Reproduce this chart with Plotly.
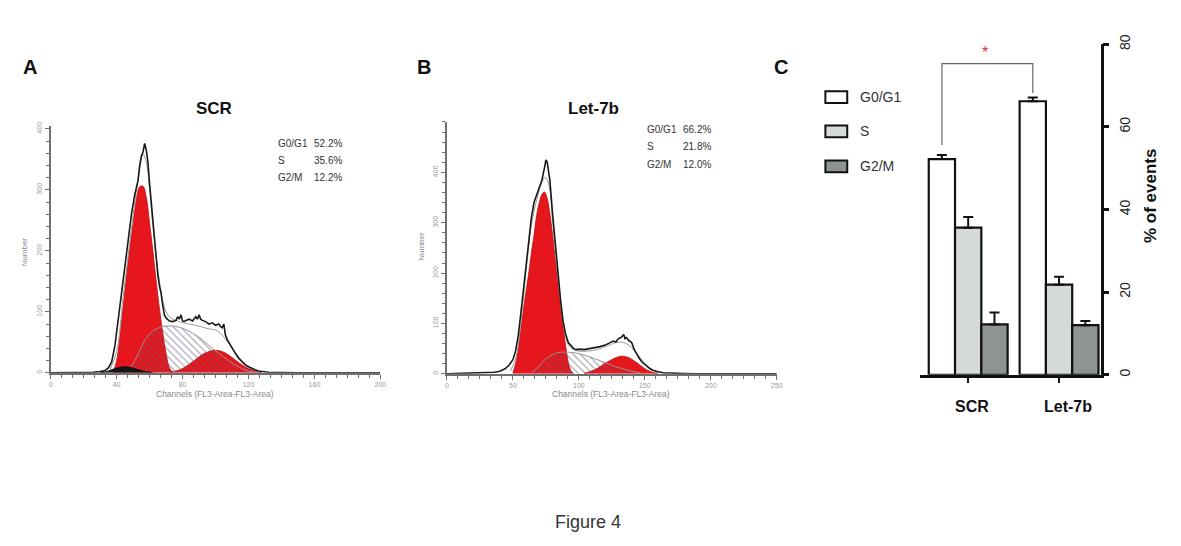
import plotly.graph_objects as go

W, H = 1181, 546
def px(x): return x / W
def py(y): return 1 - y / H

# ---------------- Panel A (SCR) ----------------
a_out_ch = [0, 10, 20, 26, 30, 33, 35, 37, 39, 41, 43, 45, 47, 49, 51, 53, 54, 55, 56, 57, 58, 59, 60, 61, 62, 63, 64, 65, 66, 67, 68, 69, 70, 71, 72, 74, 76, 77, 78, 79, 80, 81, 82, 84, 86, 88, 89, 90, 91, 92, 94, 96, 98, 100, 102, 103, 104, 105, 106, 107, 108, 110, 112, 114, 116, 118, 120, 122, 124, 126, 128, 132, 140, 150, 200]
a_out_val = [0, 0, 0.5, 1, 2, 4, 8, 18, 45, 90, 130, 175, 220, 260, 292, 315, 340, 355, 362, 376, 365, 345, 310, 280, 250, 215, 185, 160, 142, 130, 110, 95, 90, 88, 85, 84, 86, 92, 88, 95, 85, 84, 86, 88, 85, 92, 88, 95, 88, 86, 84, 80, 82, 78, 80, 76, 74, 80, 62, 55, 50, 40, 32, 24, 18, 13, 10, 7, 5, 3, 2, 1, 0.5, 0, 0]
a_fit_ch = [36, 40, 44, 48, 52, 54, 56, 58, 60, 62, 64, 66, 68, 70, 72, 76, 80, 84, 88, 92, 96, 100, 104, 108, 112, 116, 120, 124, 128]
a_fit_val = [5, 35, 125, 215, 300, 335, 358, 345, 300, 240, 190, 150, 118, 100, 92, 86, 82, 80, 78, 75, 72, 70, 62, 48, 34, 20, 10, 4, 1]
a_g1_ch = [38, 40, 42, 44, 46, 48, 50, 52, 54, 56, 58, 60, 62, 64, 66, 68, 70, 72, 74]
a_g1_val = [2, 20, 60, 110, 160, 205, 245, 285, 305, 306, 288, 245, 200, 150, 105, 65, 32, 8, 1]
a_s_ch = [44, 48, 52, 56, 60, 64, 68, 72, 76, 80, 84, 88, 92, 96, 100, 104, 108, 112, 116, 120, 124]
a_s_val = [2, 8, 25, 48, 64, 72, 76, 77, 76, 73, 68, 62, 54, 45, 36, 28, 20, 13, 7, 3, 1]
a_g2_ch = [72, 76, 80, 84, 88, 92, 96, 100, 104, 108, 112, 116, 120, 124, 128]
a_g2_val = [1, 3, 7, 14, 22, 30, 35, 37, 35, 29, 21, 13, 7, 3, 1]
a_deb_ch = [30, 34, 38, 42, 45, 48, 52, 56, 60, 62]
a_deb_val = [0, 2, 6, 9, 10, 9, 6, 3, 1, 0]
a_stats_lbl = ["G0/G1", "S", "G2/M"]
a_stats_val = ["52.2%", "35.6%", "12.2%"]

# ---------------- Panel B (Let-7b) ----------------
b_out_ch = [0, 20, 30, 36, 40, 44, 47, 50, 52, 54, 56, 58, 60, 62, 64, 66, 68, 70, 72, 74, 75, 76, 77, 78, 80, 82, 84, 86, 88, 90, 92, 94, 96, 98, 100, 104, 108, 112, 116, 120, 124, 126, 128, 130, 132, 134, 135, 136, 138, 140, 142, 144, 146, 148, 150, 152, 154, 156, 158, 160, 164, 170, 180, 190, 250]
b_out_val = [0, 1, 2, 3, 5, 10, 17, 28, 45, 75, 120, 166, 220, 270, 310, 340, 355, 370, 385, 410, 425, 420, 400, 385, 320, 260, 205, 150, 105, 78, 62, 55, 50, 48, 49, 48, 50, 51, 54, 57, 62, 65, 63, 70, 72, 78, 70, 72, 66, 62, 48, 38, 30, 23, 18, 13, 10, 7, 5, 4, 2, 1, 0.5, 0, 0]
b_fit_ch = [48, 52, 56, 60, 64, 68, 70, 72, 74, 76, 78, 80, 82, 84, 86, 88, 90, 92, 96, 100, 106, 112, 118, 124, 128, 132, 136, 140, 144, 148, 152, 156, 160, 166]
b_fit_val = [5, 30, 100, 205, 295, 345, 365, 380, 390, 385, 365, 305, 250, 195, 145, 100, 74, 58, 48, 45, 45, 47, 52, 58, 62, 63, 60, 52, 40, 27, 16, 8, 4, 1]
b_g1_ch = [50, 52, 54, 56, 58, 60, 62, 64, 66, 68, 70, 72, 74, 76, 78, 80, 82, 84, 86, 88, 90, 92, 94, 96]
b_g1_val = [2, 20, 48, 88, 128, 165, 200, 240, 275, 315, 340, 356, 361, 348, 318, 278, 230, 185, 140, 95, 55, 22, 6, 1]
b_s_ch = [64, 68, 72, 76, 80, 84, 88, 92, 96, 100, 104, 108, 112, 116, 120, 124, 128, 132, 136, 140, 144, 148]
b_s_val = [2, 10, 22, 32, 38, 42, 43, 43, 42, 40, 37, 34, 30, 26, 22, 18, 14, 11, 8, 5, 3, 1]
b_g2_ch = [104, 108, 112, 116, 120, 124, 128, 132, 136, 140, 144, 148, 152, 156, 160]
b_g2_val = [1, 4, 8, 14, 21, 27, 32, 35, 34, 29, 22, 14, 7, 3, 1]
b_stats_lbl = ["G0/G1", "S", "G2/M"]
b_stats_val = ["66.2%", "21.8%", "12.0%"]

# ---------------- Panel C (bars) ----------------
groups = ["SCR", "Let-7b"]
phases = ["G0/G1", "S", "G2/M"]
means = {"G0/G1": [52.2, 66.2], "S": [35.6, 21.8], "G2/M": [12.2, 12.0]}
errs = {"G0/G1": [1.0, 0.9], "S": [2.6, 1.9], "G2/M": [2.9, 1.0]}
phase_colors = {"G0/G1": "#ffffff", "S": "#d5d9d9", "G2/M": "#8e9393"}

RED = "#e5161c"
fig = go.Figure()

def hist_panel(xa, ya, out_ch, out_val, fit_ch, fit_val, g1_ch, g1_val, s_ch, s_val, g2_ch, g2_val, deb=None):
    fig.add_trace(go.Scatter(x=g1_ch, y=g1_val, mode="lines", line=dict(color="#c01010", width=0.8, shape="spline"),
                             fill="tozeroy", fillcolor=RED, xaxis=xa, yaxis=ya, hoverinfo="skip"))
    fig.add_trace(go.Scatter(x=g2_ch, y=g2_val, mode="lines", line=dict(color="#c01010", width=0.8, shape="spline"),
                             fill="tozeroy", fillcolor=RED, xaxis=xa, yaxis=ya, hoverinfo="skip"))
    fig.add_trace(go.Scatter(x=s_ch, y=s_val, mode="lines", line=dict(color="#9a8f98", width=1, shape="spline"),
                             fill="tozeroy", fillcolor="rgba(0,0,0,0)",
                             fillpattern=dict(shape="\\", fgcolor="#5e5a78", bgcolor="rgba(0,0,0,0)",
                                              fgopacity=0.55, size=5, solidity=0.22),
                             xaxis=xa, yaxis=ya, hoverinfo="skip"))
    if deb is not None:
        fig.add_trace(go.Scatter(x=deb[0], y=deb[1], mode="lines", line=dict(color="#111", width=1, shape="spline"),
                                 fill="tozeroy", fillcolor="#151515", xaxis=xa, yaxis=ya, hoverinfo="skip"))
    fig.add_trace(go.Scatter(x=fit_ch, y=fit_val, mode="lines", line=dict(color="#9a9a9a", width=1, shape="spline"),
                             xaxis=xa, yaxis=ya, hoverinfo="skip"))
    fig.add_trace(go.Scatter(x=out_ch, y=out_val, mode="lines", line=dict(color="#1a1a1a", width=1.6),
                             xaxis=xa, yaxis=ya, hoverinfo="skip"))

hist_panel("x", "y", a_out_ch, a_out_val, a_fit_ch, a_fit_val, a_g1_ch, a_g1_val, a_s_ch, a_s_val,
           a_g2_ch, a_g2_val, deb=(a_deb_ch, a_deb_val))
hist_panel("x2", "y2", b_out_ch, b_out_val, b_fit_ch, b_fit_val, b_g1_ch, b_g1_val, b_s_ch, b_s_val,
           b_g2_ch, b_g2_val)

for ph in phases:
    fig.add_trace(go.Bar(x=groups, y=means[ph], name=ph, xaxis="x3", yaxis="y3",
                         marker=dict(color=phase_colors[ph], line=dict(color="#111", width=2.2)),
                         error_y=dict(type="data", array=errs[ph], arrayminus=[0, 0], symmetric=False,
                                      color="#111", thickness=2, width=5)))

small_ax = dict(showgrid=False, zeroline=False, showline=True, linecolor="#6f6f6f", linewidth=1.5,
                ticks="outside", ticklen=4, tickcolor="#6f6f6f", tickwidth=1.2,
                tickfont=dict(size=7, color="#9a9a9a", family="Arial, Liberation Sans"))

fig.update_layout(
    width=W, height=H, margin=dict(l=0, r=0, t=0, b=0),
    paper_bgcolor="white", plot_bgcolor="white", showlegend=False,
    barmode="group", bargap=0.132, bargroupgap=0,
    xaxis=dict(domain=[px(49), px(381)], range=[0, 200], anchor="y", tickvals=[0, 40, 80, 120, 160, 200],
               minor=dict(dtick=40/6, tick0=0, ticks="outside", ticklen=3, tickcolor="#6f6f6f"), **small_ax),
    yaxis=dict(domain=[py(371), py(119)], range=[0, 404], anchor="x", tickvals=[0, 100, 200, 300, 400],
               tickangle=-90, minor=dict(dtick=20, tick0=0, ticks="outside", ticklen=3, tickcolor="#6f6f6f"), **small_ax),
    xaxis2=dict(domain=[px(448), px(780)], range=[0, 250], anchor="y2", tickvals=[0, 50, 100, 150, 200, 250],
                minor=dict(dtick=50/6, tick0=0, ticks="outside", ticklen=3, tickcolor="#6f6f6f"), **small_ax),
    yaxis2=dict(domain=[py(372), py(114.5)], range=[0, 500], anchor="x2", tickvals=[0, 100, 200, 300, 400],
                tickangle=-90, minor=dict(dtick=20, tick0=0, ticks="outside", ticklen=3, tickcolor="#6f6f6f"), **small_ax),
    xaxis3=dict(domain=[px(924), px(1106)], range=[-0.533, 1.456], anchor="y3", type="category",
                showgrid=False, zeroline=False, showline=True, linecolor="#111", linewidth=2.5,
                ticks="outside", ticklen=5, tickwidth=2, tickcolor="#111", showticklabels=False),
    yaxis3=dict(domain=[py(373), py(35)], range=[0, 80], anchor="x3", side="right",
                showgrid=False, zeroline=False, showline=True, linecolor="#111", linewidth=2.5,
                ticks="outside", ticklen=6, tickwidth=2.5, tickcolor="#111", tickvals=[0, 20, 40, 60, 80],
                tickangle=-90, ticklabelstandoff=4,
                tickfont=dict(size=14, color="#222", family="Arial, Liberation Sans")),
)

ann = []
def A(x, y, text, size, color="#111", bold=False, xanchor="center", yanchor="middle", angle=0):
    t = f"<b>{text}</b>" if bold else text
    ann.append(dict(x=px(x), y=py(y), xref="paper", yref="paper", text=t, showarrow=False,
                    font=dict(size=size, color=color, family="Arial, Liberation Sans"),
                    xanchor=xanchor, yanchor=yanchor, textangle=angle))

A(28, 58, "A", 20, bold=True)
A(425, 58, "B", 20, bold=True)
A(784, 58, "C", 20, bold=True)
A(213, 101, "SCR", 17, bold=True)
A(596, 101, "Let-7b", 17, bold=True)
for i, (l, v) in enumerate(zip(a_stats_lbl, a_stats_val)):
    A(276, 137 + 17 * i, l, 10, color="#333", xanchor="left")
    A(344, 137 + 17 * i, v, 10, color="#333", xanchor="right")
for i, (l, v) in enumerate(zip(b_stats_lbl, b_stats_val)):
    A(647, 122 + 18 * i, l, 10, color="#333", xanchor="left")
    A(716, 122 + 18 * i, v, 10, color="#333", xanchor="right")
A(23, 247, "Number", 8, color="#8a8a8a", angle=-90)
A(423, 242, "Number", 8, color="#8a8a8a", angle=-90)
A(214, 393, "Channels (FL3-Area-FL3-Area)", 8.5, color="#8a8a8a")
A(613, 393, "Channels (FL3-Area-FL3-Area)", 8.5, color="#8a8a8a")
A(1157, 190, "% of events", 17, bold=True, angle=-90)
A(977, 405, "SCR", 16, bold=True)
A(1073, 405, "Let-7b", 16, bold=True)
A(590, 523, "Figure 4", 18, color="#333")
A(862, 89, "G0/G1", 14, color="#333", xanchor="left")
A(862, 124, "S", 14, color="#333", xanchor="left")
A(862, 160, "G2/M", 14, color="#333", xanchor="left")

# significance star in data coords
ann.append(dict(x=0.18, y=78.0, xref="x3", yref="y3", text="*", showarrow=False,
                font=dict(size=16, color="#e0304a", family="Arial, Liberation Sans")))
fig.update_layout(annotations=ann)

shapes = []
for yc, ph in zip([89, 124, 160], phases):
    shapes.append(dict(type="rect", xref="paper", yref="paper", x0=px(829), x1=px(851), y0=py(yc + 6), y1=py(yc - 6),
                       fillcolor=phase_colors[ph], line=dict(color="#111", width=2)))
# bracket (data coords on x3/y3)
bx0, bx1 = -0.289, 0.711
shapes.append(dict(type="path", xref="x3", yref="y3",
                   path=f"M {bx0},55.6 L {bx0},75.3 L {bx1},75.3 L {bx1},68.2",
                   line=dict(color="#666", width=1.2)))
fig.update_layout(shapes=shapes)

fig.write_html("out.html", config={"displayModeBar": False},
               post_script="document.body.style.margin='0';document.body.style.overflow='hidden';")
